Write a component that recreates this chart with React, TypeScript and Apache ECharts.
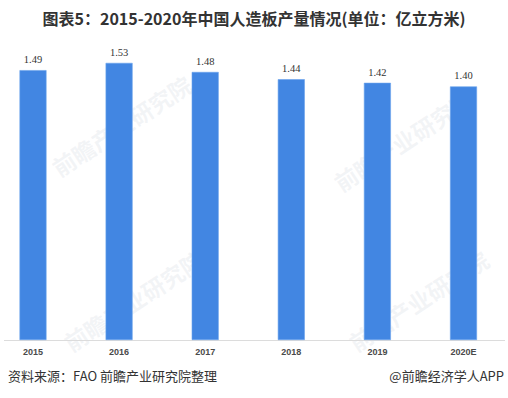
import React, { useEffect, useRef } from "react";
import * as echarts from "echarts";

const categories = ["2015", "2016", "2017", "2018", "2019", "2020E"];
const values = [1.49, 1.53, 1.48, 1.44, 1.42, 1.4];
const titleText = "图表5：2015-2020年中国人造板产量情况(单位：亿立方米)";
const sourceText = "资料来源：FAO 前瞻产业研究院整理";
const creditText = "@前瞻经济学人APP";
const watermarkText = "前瞻产业研究院";

const CJK = '"Noto Sans CJK SC", "Noto Sans", sans-serif';

export default function App() {
  const ref = useRef<HTMLDivElement>(null);
  useEffect(() => {
    if (!ref.current) return;
    const chart = echarts.init(ref.current, undefined, { renderer: "svg" });
    const wm = (x: number, y: number) => ({
      type: "text",
      x,
      y,
      rotation: 0.58,
      z: -10,
      silent: true,
      style: {
        text: watermarkText,
        font: `bold 23px ${CJK}`,
        fill: "rgba(200,205,215,0.22)",
      },
    });
    chart.setOption({
      animation: false,
      backgroundColor: "#ffffff",
      title: {
        text: titleText,
        left: "center",
        top: 5,
        textStyle: {
          fontSize: 16,
          fontWeight: "bold",
          color: "#333333",
          fontFamily: CJK,
        },
      },
      grid: { left: 33, right: 44.5, top: 14, bottom: 58, containLabel: false },
      xAxis: {
        type: "category",
        data: categories,
        boundaryGap: false,
        axisLine: { show: false },
        axisTick: { show: false },
        axisLabel: {
          fontSize: 9,
          fontWeight: "bold",
          color: "#4a4a4a",
          margin: 7,
          fontFamily: "Liberation Sans, Arial, sans-serif",
        },
      },
      yAxis: {
        type: "value",
        min: 0,
        max: 1.8,
        show: false,
        splitLine: { show: false },
      },
      series: [
        {
          type: "bar",
          data: values,
          barWidth: 27,
          itemStyle: {
            color: "#4286E2",
            borderColor: "#6aa2ec",
            borderWidth: 0.6,
          },
          label: {
            show: true,
            position: "top",
            distance: 5,
            fontSize: 10.5,
            color: "#333333",
            fontFamily: "Liberation Serif, serif",
            formatter: (p: any) => p.value.toFixed(2),
          },
        },
      ],
      graphic: [
        wm(48, 160),
        wm(330, 175),
        wm(60, 335),
        wm(345, 335),
        {
          type: "line",
          shape: { x1: 4, y1: 340.5, x2: 505, y2: 340.5 },
          style: { stroke: "#dcdcdc", lineWidth: 1 },
          silent: true,
        },
        {
          type: "text",
          left: 8,
          top: 369,
          style: {
            text: sourceText,
            font: `13px ${CJK}`,
            fill: "#333333",
          },
        },
        {
          type: "text",
          right: 4,
          top: 369,
          style: {
            text: creditText,
            font: `13px ${CJK}`,
            fill: "#333333",
          },
        },
      ],
    });
    return () => chart.dispose();
  }, []);
  return <div ref={ref} style={{ width: 508, height: 398, position: "absolute", left: 0, top: 0 }} />;
}
